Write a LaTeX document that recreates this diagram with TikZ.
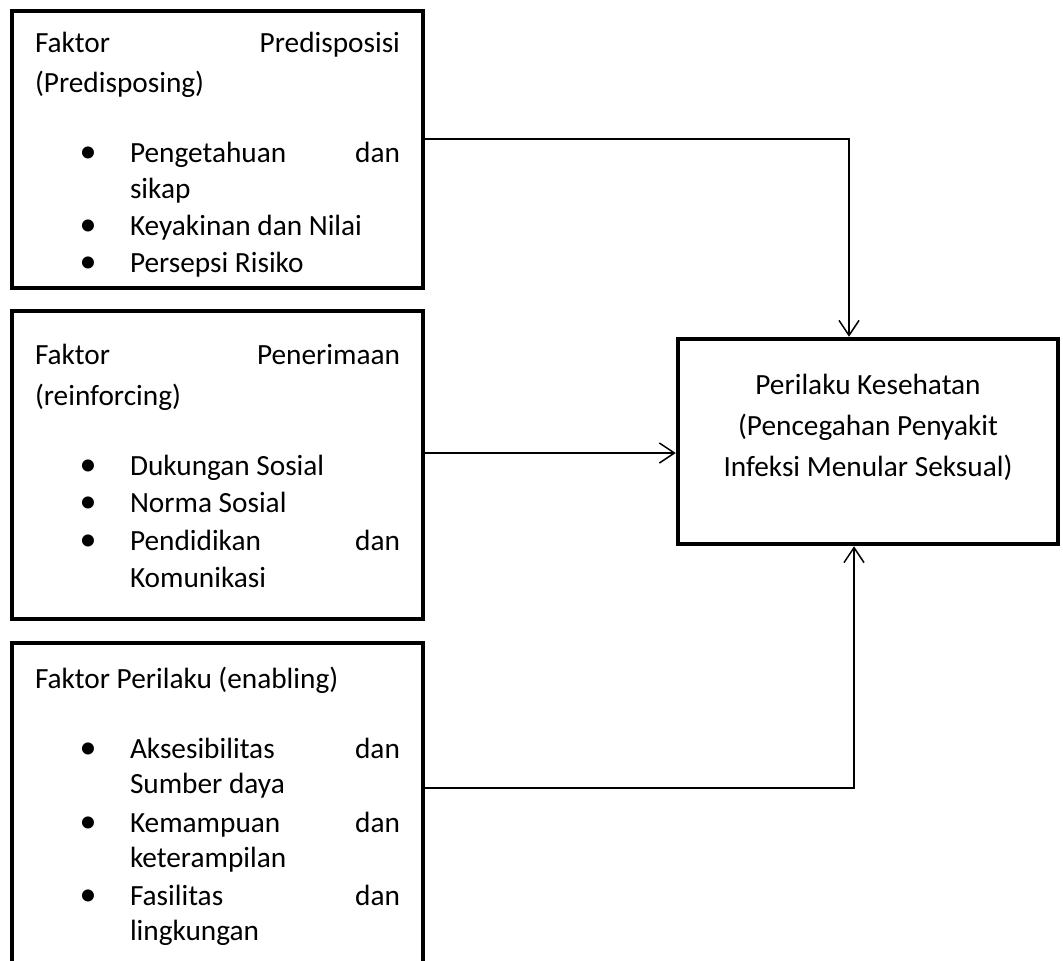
\documentclass[tikz,border=0pt]{standalone}
\usepackage{fontspec}
\setmainfont{Carlito}
\usetikzlibrary{arrows.meta}
\tikzset{
  framebox/.style={draw, line width=4.5pt, inner sep=0pt, minimum width=#1},
  txt/.style={inner sep=0pt, outer sep=0pt, anchor=base west, font=\fontsize{29.3}{37}\selectfont},
  ctxt/.style={inner sep=0pt, outer sep=0pt, anchor=base, font=\fontsize{29.3}{37}\selectfont},
  bul/.style={inner sep=0pt, outer sep=0pt, anchor=base, font=\fontsize{34}{37}\selectfont},
  conn/.style={line width=1.5pt, -{Straight Barb[length=15pt,width=20pt,line width=1.5pt]}}
}
\newcommand{\jline}[3]{\hbox to #1pt{#2\hfill #3}}
\begin{document}
\begin{tikzpicture}[x=1pt,y=-1pt]
\useasboundingbox (0,0) rectangle (1063,961);
\clip (0,0) rectangle (1063,961);
\fill[white] (0,0) rectangle (1063,961);

% boxes
\node[framebox=411pt, minimum height=277pt] (B1) at (217.5,149.5) {};
\node[framebox=411pt, minimum height=308pt] (B2) at (217.5,465) {};
\node[framebox=411pt, minimum height=357pt] (B3) at (217.5,821.5) {};
\node[framebox=380pt, minimum height=205pt] (R) at (868,441.5) {};

% box 1 text
\node[txt] (h1a) at (35,52) {\jline{365}{Faktor}{Predisposisi}};
\node[txt] (h1b) at (35,92) {(Predisposing)};
\node[bul] (d1a) at (88,162) {•};
\node[txt] (l1a) at (130,162) {\jline{270}{Pengetahuan}{dan}};
\node[txt] (l1b) at (130,198) {sikap};
\node[bul] (d1c) at (88,235) {•};
\node[txt] (l1c) at (130,235) {Keyakinan dan Nilai};
\node[bul] (d1d) at (88,272) {•};
\node[txt] (l1d) at (130,272) {Persepsi Risiko};

% box 2 text
\node[txt] (h2a) at (35,364) {\jline{365}{Faktor}{Penerimaan}};
\node[txt] (h2b) at (35,405) {(reinforcing)};
\node[bul] (d2a) at (88,475) {•};
\node[txt] (l2a) at (130,475) {Dukungan Sosial};
\node[bul] (d2b) at (88,512) {•};
\node[txt] (l2b) at (130,512) {Norma Sosial};
\node[bul] (d2c) at (88,550) {•};
\node[txt] (l2c) at (130,550) {\jline{270}{Pendidikan}{dan}};
\node[txt] (l2d) at (130,587) {Komunikasi};

% box 3 text
\node[txt] (h3a) at (35,688) {Faktor Perilaku (enabling)};
\node[bul] (d3a) at (88,758) {•};
\node[txt] (l3a) at (130,758) {\jline{270}{Aksesibilitas}{dan}};
\node[txt] (l3b) at (130,793) {Sumber daya};
\node[bul] (d3c) at (88,832) {•};
\node[txt] (l3c) at (130,832) {\jline{270}{Kemampuan}{dan}};
\node[txt] (l3d) at (130,867) {keterampilan};
\node[bul] (d3e) at (88,905) {•};
\node[txt] (l3e) at (130,905) {\jline{270}{Fasilitas}{dan}};
\node[txt] (l3f) at (130,940) {lingkungan};

% right box text
\node[ctxt] (r1) at (868,394) {Perilaku Kesehatan};
\node[ctxt] (r2) at (868,435) {(Pencegahan Penyakit};
\node[ctxt] (r3) at (868,476) {Infeksi Menular Seksual)};

% connectors
\coordinate (y1) at (0,139);
\coordinate (y2) at (0,453);
\coordinate (y3) at (0,788);
\coordinate (x1) at (849,0);
\coordinate (x3) at (854,0);
\draw[conn] (B1.east |- y1) -| (R.north -| x1);
\draw[conn] (B2.east |- y2) -- (R.west |- y2);
\draw[conn] (B3.east |- y3) -| (R.south -| x3);
\end{tikzpicture}
\end{document}
